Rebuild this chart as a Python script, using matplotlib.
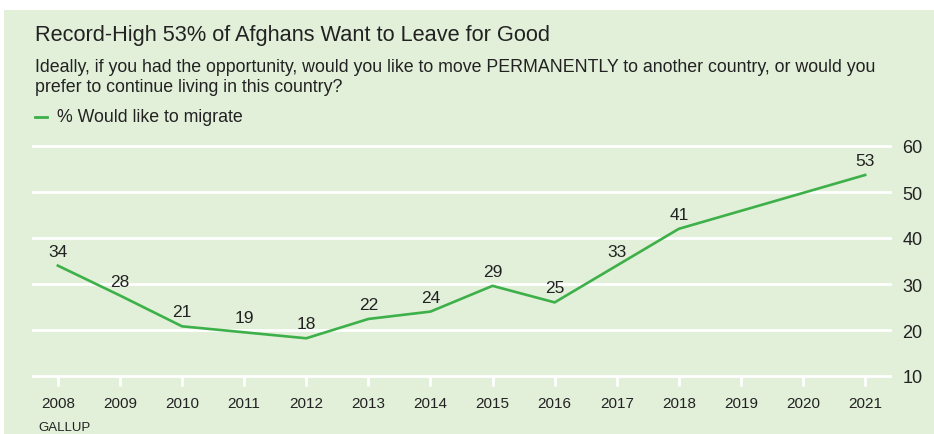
import matplotlib.pyplot as plt
from matplotlib.patches import Rectangle
from matplotlib.lines import Line2D

plt.rcParams['font.family'] = ['Liberation Sans', 'DejaVu Sans']

# Data
years = [2008, 2009, 2010, 2011, 2012, 2013, 2014, 2015, 2016, 2017, 2018, 2021]
line_vals = [34, 27.5, 20.8, 19.5, 18.2, 22.4, 24, 29.6, 26, 34, 42, 53.7]
labels = ['34', '28', '21', '19', '18', '22', '24', '29', '25', '33', '41', '53']
tick_years = list(range(2008, 2022))
yticks = [10, 20, 30, 40, 50, 60]

bg = '#e2efd9'
green = '#3db049'
txt = '#222222'

W, H = 934, 435
fig = plt.figure(figsize=(W / 100, H / 100), dpi=100)
fig.patch.set_facecolor('white')
fig.patches.append(Rectangle((4 / W, 0), 1 - 4 / W, 1 - 11 / H, transform=fig.transFigure,
                             facecolor=bg, edgecolor='none', zorder=-10))

# axes: x 33..890 px, y 147..377 px
ax = fig.add_axes([33 / W, 1 - 377 / H, (890 - 33) / W, (377 - 147) / H])
ax.set_facecolor('none')
ax.set_xlim(2007.6, 2021.4)
ax.set_ylim(10, 60)

for v in yticks:
    ax.axhline(v, color='white', lw=2, zorder=1, clip_on=False)

ax.plot(years, line_vals, color=green, lw=1.9, zorder=3, solid_joinstyle='miter')
for x, v, lab in zip(years, line_vals, labels):
    ax.annotate(lab, (x, v), xytext=(0, 5), textcoords='offset points',
                ha='center', va='bottom', fontsize=12.5, color=txt, zorder=4)

for s in ax.spines.values():
    s.set_visible(False)
ax.set_xticks(tick_years)
ax.set_xticklabels([str(y) for y in tick_years])
ax.tick_params(axis='x', direction='out', length=7.5, width=2, color='white',
               labelsize=11, labelcolor=txt, pad=7)
ax.set_yticks(yticks)
ax.yaxis.tick_right()
ax.tick_params(axis='y', length=0, labelsize=13, labelcolor=txt, pad=9)

fig.text(35 / W, 1 - 35 / H, 'Record-High 53% of Afghans Want to Leave for Good',
         fontsize=15.7, color=txt, va='center', ha='left')
fig.text(35 / W, 1 - 67 / H,
         'Ideally, if you had the opportunity, would you like to move PERMANENTLY to another country, or would you',
         fontsize=12.8, color=txt, va='center', ha='left')
fig.text(35 / W, 1 - 88 / H, 'prefer to continue living in this country?',
         fontsize=12.8, color=txt, va='center', ha='left')
fig.lines.append(Line2D([35 / W, 47 / W], [1 - 118 / H, 1 - 118 / H], transform=fig.transFigure,
                        color=green, lw=2))
fig.text(57 / W, 1 - 118 / H, '% Would like to migrate', fontsize=12.8, color=txt,
         va='center', ha='left')
fig.text(38 / W, 1 - 428 / H, 'GALLUP', fontsize=9.5, color=txt, va='center', ha='left')

fig.savefig('out.png', dpi=100, facecolor='white')
